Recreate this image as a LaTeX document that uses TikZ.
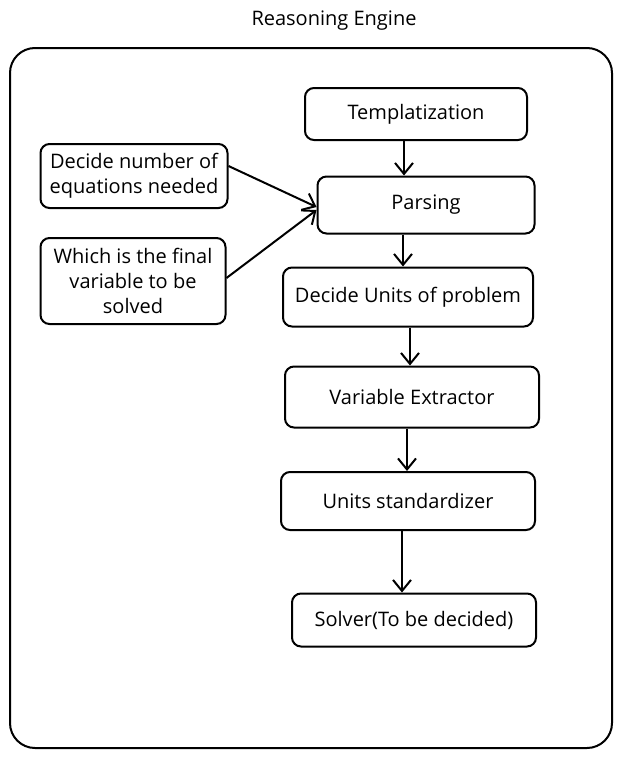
\documentclass[tikz,border=0pt]{standalone}
\usepackage{fontspec}
\setmainfont{Open Sans}
\usetikzlibrary{arrows.meta}

\tikzset{
  stage/.style={draw, line width=2pt, rounded corners=9pt, align=center, inner sep=2pt},
  arr/.style={-{Straight Barb[length=11pt,width=18pt,line width=2pt]}, line width=2pt},
}

\begin{document}
\begin{tikzpicture}[x=1pt,y=-1pt,font=\fontsize{20}{25}\selectfont]
  \useasboundingbox (0,0) rectangle (622,758);
  \node (title) at (334,21) {Reasoning Engine};
  \draw[line width=2pt, rounded corners=25pt] (10,48) rectangle (612,748);

  % pipeline stages
  \node[stage, minimum width=222pt, minimum height=52pt] (tmpl) at (416,114) {Templatization};
  \node[stage, minimum width=217pt, minimum height=57pt] (pars) at (426,205) {Parsing};
  \node[stage, minimum width=250pt, minimum height=59pt] (units) at (408,297) {Decide Units of problem};
  \node[stage, minimum width=254pt, minimum height=61pt] (vars) at (412,397) {Variable Extractor};
  \node[stage, minimum width=254pt, minimum height=58pt] (std) at (408,501) {Units standardizer};
  \node[stage, minimum width=244pt, minimum height=53pt] (solv) at (414,620) {Solver(To be decided)};

  % side inputs
  \node[stage, minimum width=187pt, minimum height=64pt] (eqn) at (134,176) {Decide number of\\equations needed};
  \node[stage, minimum width=185pt, minimum height=86pt] (fin) at (133,281) {Which is the final\\variable to be\\solved};

  \draw[arr] (tmpl.south -| 404,0) -- (pars.north -| 404,0);
  \draw[arr] (pars.south -| 403,0) -- (units.north -| 403,0);
  \draw[arr] (units.south -| 410,0) -- (vars.north -| 410,0);
  \draw[arr] (vars.south -| 407,0) -- (std.north -| 407,0);
  \draw[arr, line width=2.6pt] (std.south -| 402,0) -- (solv.north -| 402,0);
  \draw[arr] (eqn.east |- 0,166) -- (pars.west |- 0,207);
  \draw[arr] (fin.east |- 0,278) -- (pars.west |- 0,210);
\end{tikzpicture}
\end{document}
